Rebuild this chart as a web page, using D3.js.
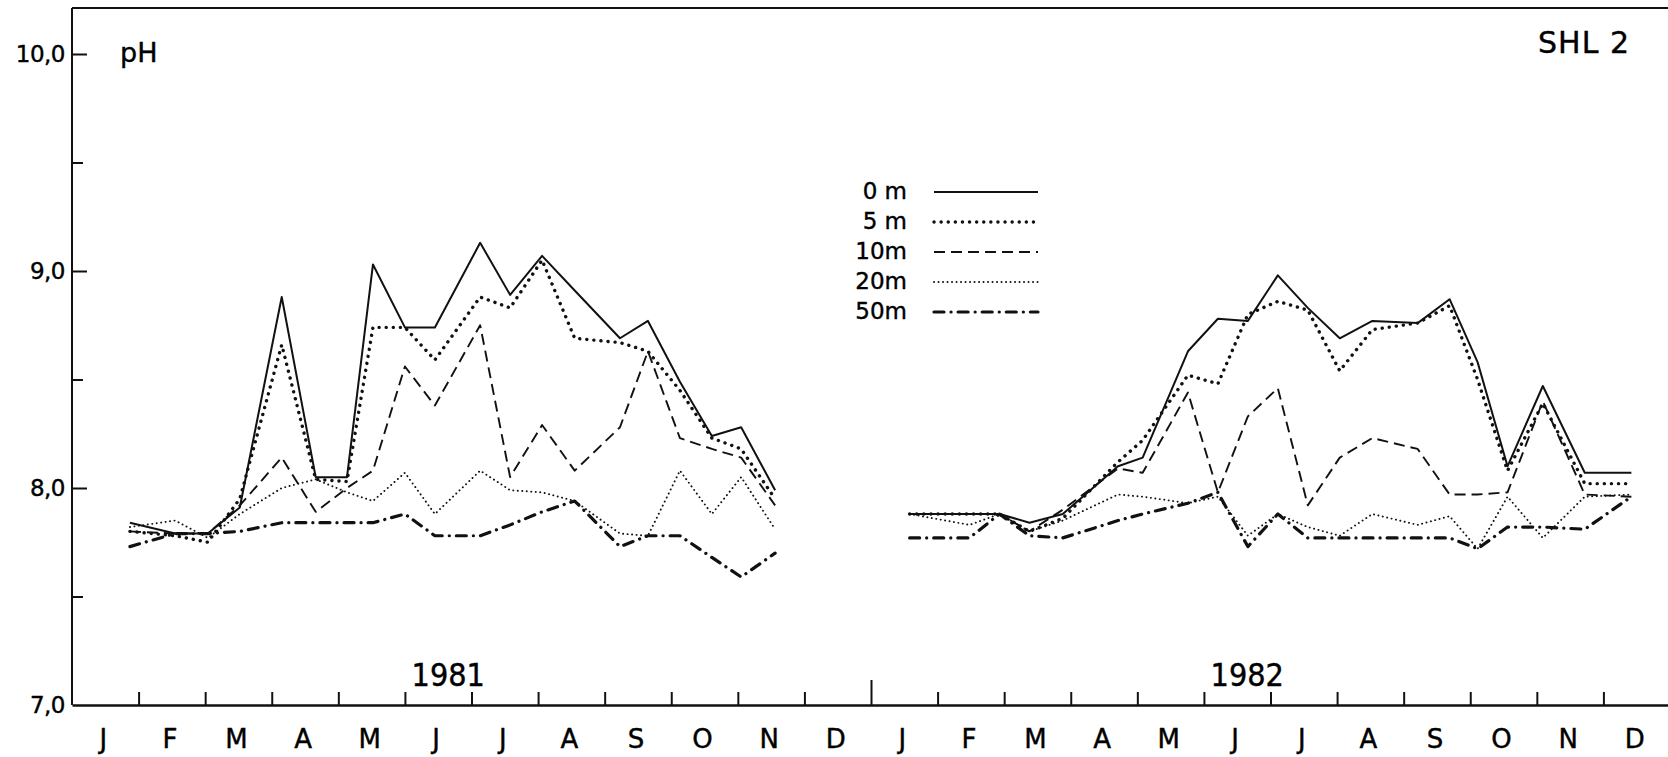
<!DOCTYPE html>
<html>
<head>
<meta charset="utf-8">
<script src="https://cdn.jsdelivr.net/npm/d3@7"></script>
<style>
    body { margin: 0; background: #fff; }
    #chart-area text { font-family: "DejaVu Sans", sans-serif; fill: #000; stroke: #000; stroke-width: 0.4px; }
    .axis path, .axis line { stroke: #111; }
</style>
</head>
<body>
<div id="chart-area"></div>
<script>
// sample positions in months (0 = start of Jan 1981, 12 = start of Jan 1982)
let dates1981 = [0.87, 1.55, 2.04, 2.52, 3.15, 3.66, 4.13, 4.52, 5.00, 5.45, 6.13, 6.58, 7.06, 7.55, 8.23, 8.65, 9.13, 9.61, 10.05, 10.56];
let dates1982 = [12.58, 13.48, 13.93, 14.38, 14.88, 15.71, 16.08, 16.76, 17.21, 17.66, 18.11, 18.56, 19.04, 19.53, 20.21, 20.69, 21.11, 21.56, 22.09, 22.72, 23.42];

// pH per depth
let ph0m1981  = [7.84, 7.79, 7.79, 7.91, 8.88, 8.05, 8.05, 9.03, 8.74, 8.74, 9.13, 8.89, 9.07, 8.91, 8.69, 8.77, 8.49, 8.24, 8.28, 7.99];
let ph5m1981  = [7.80, 7.78, 7.75, 7.95, 8.66, 8.04, 8.03, 8.74, 8.74, 8.59, 8.88, 8.83, 9.05, 8.69, 8.67, 8.63, 8.45, 8.23, 8.18, 7.95];
let ph10m1981 = [7.80, 7.79, 7.79, 7.92, 8.14, 7.89, 8.00, 8.08, 8.56, 8.38, 8.75, 8.05, 8.29, 8.08, 8.28, 8.63, 8.23, 8.18, 8.14, 7.92];
let ph20m1981 = [7.82, 7.85, 7.77, 7.88, 8.00, 8.04, 7.98, 7.94, 8.07, 7.88, 8.08, 7.99, 7.98, 7.94, 7.79, 7.78, 8.08, 7.88, 8.05, 7.81];
let ph50m1981 = [7.73, 7.79, 7.79, 7.80, 7.84, 7.84, 7.84, 7.84, 7.88, 7.78, 7.78, 7.83, 7.89, 7.94, 7.73, 7.78, 7.78, 7.68, 7.59, 7.70];

let ph0m1982  = [7.88, 7.88, 7.88, 7.84, 7.88, 8.10, 8.14, 8.63, 8.78, 8.77, 8.98, 8.83, 8.69, 8.77, 8.76, 8.87, 8.58, 8.10, 8.47, 8.07, 8.07];
let ph5m1982  = [7.88, 7.88, 7.88, 7.80, 7.86, 8.12, 8.22, 8.52, 8.48, 8.80, 8.86, 8.82, 8.54, 8.73, 8.76, 8.84, 8.50, 8.08, 8.39, 8.02, 8.02];
let ph10m1982 = [7.88, 7.88, 7.88, 7.80, 7.90, 8.09, 8.07, 8.44, 7.98, 8.33, 8.46, 7.92, 8.14, 8.23, 8.18, 7.97, 7.97, 7.98, 8.40, 7.97, 7.96];
let ph20m1982 = [7.88, 7.83, 7.88, 7.80, 7.85, 7.97, 7.96, 7.93, 7.96, 7.78, 7.88, 7.82, 7.78, 7.88, 7.83, 7.87, 7.72, 7.96, 7.77, 7.96, 7.97];
let ph50m1982 = [7.77, 7.77, 7.88, 7.78, 7.77, 7.85, 7.88, 7.93, 7.98, 7.73, 7.88, 7.77, 7.77, 7.77, 7.77, 7.77, 7.72, 7.82, 7.82, 7.81, 7.96];

let depthLabels = ["0 m", "5 m", "10m", "20m", "50m"];
let monthLabels = ["J", "F", "M", "A", "M", "J", "J", "A", "S", "O", "N", "D"];
let yearLabels = ["1981", "1982"];
let yTickValues = [7.0, 7.5, 8.0, 8.5, 9.0, 9.5, 10.0];

class PhChart {
    constructor(_parentElement) {
        this.parentElement = _parentElement;
        this.initVis();
    }

    initVis() {
        let vis = this;
        vis.width = 1668;
        vis.height = 757;

        vis.svg = d3.select("#" + vis.parentElement).append("svg")
            .attr("width", vis.width)
            .attr("height", vis.height);

        vis.x = d3.scaleLinear().domain([0, 24]).range([72, 1670]);
        vis.y = d3.scaleLinear().domain([7, 10]).range([705, 54]);

        // line styles per depth
        vis.styles = {
            "0 m": { width: 2, dash: null, cap: "butt" },
            "5 m": { width: 3.4, dash: "0.1 7", cap: "round" },
            "10m": { width: 1.9, dash: "11 6", cap: "butt" },
            "20m": { width: 1.9, dash: "0.1 4.4", cap: "round" },
            "50m": { width: 3.2, dash: "10 7 0.1 7", cap: "round" }
        };

        vis.series = [
            { depth: "0 m", v81: ph0m1981, v82: ph0m1982 },
            { depth: "5 m", v81: ph5m1981, v82: ph5m1982 },
            { depth: "10m", v81: ph10m1981, v82: ph10m1982 },
            { depth: "20m", v81: ph20m1981, v82: ph20m1982 },
            { depth: "50m", v81: ph50m1981, v82: ph50m1982 }
        ];

        vis.wrangleData();
    }

    wrangleData() {
        let vis = this;
        vis.lines = [];
        vis.series.forEach(s => {
            vis.lines.push({ depth: s.depth, pts: dates1981.map((t, i) => ({ t: t, v: s.v81[i] })) });
            vis.lines.push({ depth: s.depth, pts: dates1982.map((t, i) => ({ t: t, v: s.v82[i] })) });
        });
        vis.updateVis();
    }

    updateVis() {
        let vis = this;

        // frame: top line
        vis.svg.append("line")
            .attr("x1", vis.x(0)).attr("x2", vis.width)
            .attr("y1", 8).attr("y2", 8)
            .attr("stroke", "#111").attr("stroke-width", 2);

        // y axis, ticks pointing into the plot
        let yAxis = d3.axisLeft(vis.y)
            .tickValues(yTickValues)
            .tickSizeInner(-15)
            .tickSizeOuter(0)
            .tickPadding(7)
            .tickFormat(d => d % 1 === 0 ? d3.format(".1f")(d).replace(".", ",") : "");

        let gy = vis.svg.append("g")
            .attr("class", "axis y-axis")
            .attr("transform", "translate(" + vis.x(0) + ",0)")
            .call(yAxis);
        gy.select(".domain").attr("stroke-width", 2).attr("d", "M0,8V705");
        gy.selectAll(".tick line")
            .attr("stroke-width", 2)
            .attr("x2", d => d % 1 === 0 ? 15 : 11);
        gy.selectAll(".tick").filter(d => d === 7).select("line").remove();
        gy.selectAll("text").style("font-size", "23px").style("letter-spacing", "-0.5px");

        // x axis: month boundaries
        let xAxis = d3.axisBottom(vis.x)
            .tickValues(d3.range(1, 24))
            .tickSizeInner(-13)
            .tickSizeOuter(0)
            .tickFormat("");

        let gx = vis.svg.append("g")
            .attr("class", "axis x-axis")
            .attr("transform", "translate(0," + vis.y(7) + ")")
            .call(xAxis);
        gx.select(".domain").attr("stroke-width", 2.5);
        gx.selectAll(".tick line")
            .attr("stroke-width", 2)
            .attr("y2", d => d === 12 ? -25 : -13);

        // month letters
        vis.svg.append("g").selectAll("text")
            .data(d3.range(24))
            .enter().append("text")
            .attr("x", d => vis.x(d + 0.5) - 2)
            .attr("y", 748)
            .attr("text-anchor", "middle")
            .style("font-size", "26px")
            .text(d => monthLabels[d % 12]);

        // year labels
        vis.svg.append("g").selectAll("text")
            .data(yearLabels)
            .enter().append("text")
            .attr("x", (d, i) => vis.x(i * 12 + 5.65))
            .attr("y", 686)
            .attr("text-anchor", "middle")
            .style("font-family", "'Liberation Sans Narrow', 'DejaVu Sans Condensed', sans-serif")
            .style("font-size", "32px")
            .text(d => d);

        vis.svg.append("text")
            .attr("x", 120).attr("y", 62)
            .style("font-size", "27px")
            .text("pH");

        vis.svg.append("text")
            .attr("x", 1630).attr("y", 53)
            .attr("text-anchor", "end")
            .style("font-size", "30px")
            .style("letter-spacing", "1px")
            .text("SHL 2");

        // data lines
        let lineFunc = d3.line()
            .x(d => vis.x(d.t))
            .y(d => vis.y(d.v))
            .curve(d3.curveLinear);

        vis.svg.append("g").selectAll("path")
            .data(vis.lines)
            .enter().append("path")
            .attr("d", d => lineFunc(d.pts))
            .attr("fill", "none")
            .attr("stroke", "#111")
            .attr("stroke-width", d => vis.styles[d.depth].width)
            .attr("stroke-dasharray", d => vis.styles[d.depth].dash)
            .attr("stroke-linecap", d => vis.styles[d.depth].cap)
            .attr("stroke-linejoin", "round");

        // legend
        let legend = vis.svg.append("g").selectAll("g")
            .data(depthLabels)
            .enter().append("g")
            .attr("transform", (d, i) => "translate(0," + (191 + i * 30) + ")");

        legend.append("text")
            .attr("x", 907).attr("y", 0)
            .attr("dy", "0.36em")
            .attr("text-anchor", "end")
            .style("font-size", "23px")
            .text(d => d);

        legend.append("line")
            .attr("x1", 934).attr("x2", 1038)
            .attr("y1", 1).attr("y2", 1)
            .attr("stroke", "#111")
            .attr("stroke-width", d => vis.styles[d].width)
            .attr("stroke-dasharray", d => vis.styles[d].dash)
            .attr("stroke-linecap", d => vis.styles[d].cap);
    }
}

new PhChart("chart-area");
</script>
</body>
</html>
